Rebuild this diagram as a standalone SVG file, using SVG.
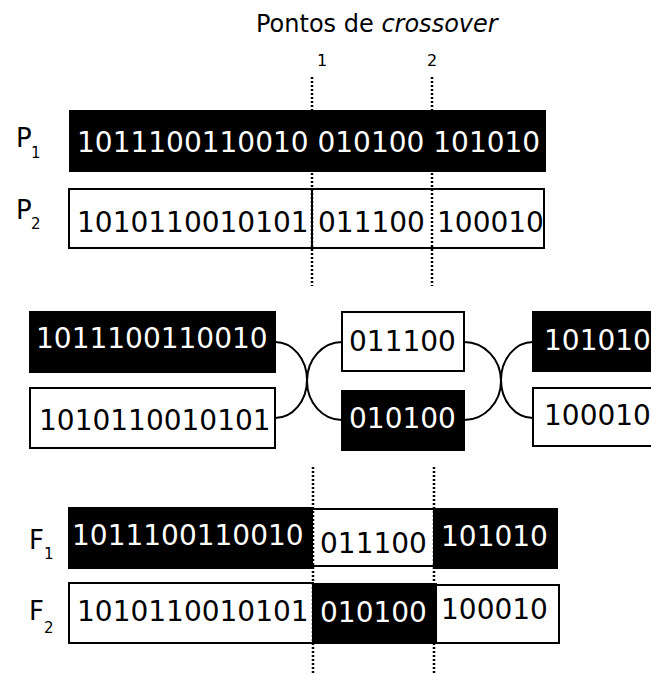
<svg xmlns="http://www.w3.org/2000/svg" width="651" height="675" viewBox="0 0 651 675">
<style>
text{font-family:"DejaVu Sans","Liberation Sans",sans-serif;fill:#000}
.bits{font-size:28px}
.w{fill:#fff}
.lbl{font-size:26px}
.sub{font-size:15px}
.blk{fill:#000;stroke:#000;stroke-width:2}
.wht{fill:#fff;stroke:#000;stroke-width:2}
.dot{stroke:#000;stroke-width:2.5;stroke-dasharray:2 2;fill:none}
.arc{stroke:#000;stroke-width:2;fill:none}
</style>
<rect width="651" height="675" fill="#fff"/>
<g id="title">
<text x="256" y="32" style="font-size:24px">Pontos de <tspan style="font-style:italic">crossover</tspan></text>
<text x="322" y="66" text-anchor="middle" style="font-size:16px">1</text>
<text x="432" y="66" text-anchor="middle" style="font-size:16px">2</text>
</g>
<g id="P1">
<text class="lbl" x="16" y="147">P</text><text class="sub" x="31" y="158">1</text>
<rect class="blk" x="70" y="111" width="475" height="60"/>
<text class="bits w" x="77" y="152">1011100110010 010100 101010</text>
</g>
<g id="P2">
<text class="lbl" x="16" y="219">P</text><text class="sub" x="31" y="229">2</text>
<rect class="wht" x="69" y="189" width="475" height="59"/>
<line x1="312" y1="189" x2="312" y2="248" stroke="#000" stroke-width="2"/>
<text class="bits" x="77" y="232">1010110010101</text>
<text class="bits" x="318" y="232">011100</text>
<text class="bits" x="437" y="232">100010</text>
</g>
<g id="m-p1-left">
<rect class="blk" x="30" y="312" width="245" height="60"/>
<text class="bits w" x="36" y="348">1011100110010</text>
</g>
<g id="m-p2-left">
<rect class="wht" x="30" y="388" width="245" height="60"/>
<text class="bits" x="39" y="430">1010110010101</text>
</g>
<g id="m-p2-mid">
<rect class="wht" x="342" y="312" width="122" height="59"/>
<text class="bits" x="349" y="351">011100</text>
</g>
<g id="m-p1-mid">
<rect class="blk" x="342" y="391" width="122" height="59"/>
<text class="bits w" x="349" y="428">010100</text>
</g>
<g id="m-p1-right">
<rect class="blk" x="533" y="312" width="130" height="59"/>
<text class="bits w" x="544" y="350">101010</text>
</g>
<g id="m-p2-right">
<rect class="wht" x="533" y="388" width="130" height="58"/>
<text class="bits" x="544" y="425">100010</text>
</g>
<g id="F1">
<text class="lbl" x="29" y="549">F</text><text class="sub" x="44" y="559">1</text>
<rect class="blk" x="69" y="508" width="244" height="60"/>
<rect x="313" y="509" width="121" height="57" fill="#fff"/>
<path d="M313,509 H434 M313,566 H434" stroke="#000" stroke-width="2"/>
<rect class="blk" x="434" y="509" width="123" height="59"/>
<text class="bits w" x="72" y="545">1011100110010</text>
<text class="bits" x="320" y="553">011100</text>
<text class="bits w" x="441" y="546">101010</text>
</g>
<g id="F2">
<text class="lbl" x="29" y="620">F</text><text class="sub" x="44" y="633">2</text>
<rect class="wht" x="69" y="583" width="244" height="60"/>
<rect class="blk" x="313" y="584" width="123" height="59"/>
<rect class="wht" x="436" y="585" width="123" height="58"/>
<text class="bits" x="77" y="621">1010110010101</text>
<text class="bits w" x="320" y="622">010100</text>
<text class="bits" x="441" y="619">100010</text>
</g>
<g id="connectors">
<path class="arc" d="M275,342 A32,38 0 0 1 275,418"/>
<path class="arc" d="M342,342 A35,39 0 0 0 342,420"/>
<path class="arc" d="M464,342 A37,39 0 0 1 464,420"/>
<path class="arc" d="M533,342 A32,38 0 0 0 533,418"/>
<line class="dot" x1="312" y1="77" x2="312" y2="286"/>
<line class="dot" x1="432" y1="77" x2="432" y2="286"/>
<line class="dot" x1="313" y1="467" x2="313" y2="675"/>
<line class="dot" x1="434" y1="467" x2="434" y2="675"/>
</g>
</svg>
